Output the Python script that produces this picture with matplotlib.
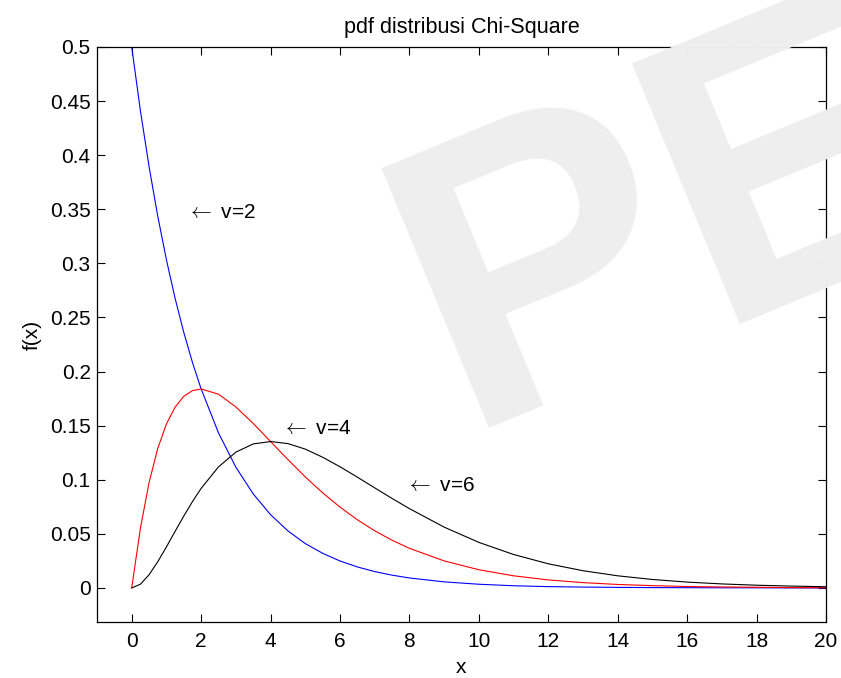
import matplotlib.pyplot as plt

plt.rcParams['font.family'] = ['Liberation Sans', 'DejaVu Sans']
plt.rcParams['mathtext.fontset'] = 'cm'

# x grid and the three chi-square pdf curves (v = 2, 4, 6)
x = [0, 0.25, 0.5, 0.75, 1, 1.25, 1.5, 1.75, 2, 2.5, 3, 3.5, 4, 4.5, 5, 5.5,
     6, 6.5, 7, 7.5, 8, 9, 10, 11, 12, 13, 14, 15, 16, 17, 18, 19, 20]

f_v2 = [0.5, 0.4412, 0.3894, 0.3436, 0.3033, 0.2676, 0.2362, 0.2084, 0.1839,
        0.1433, 0.1116, 0.0869, 0.0677, 0.0527, 0.0410, 0.0320, 0.0249, 0.0194,
        0.0151, 0.0118, 0.0092, 0.0056, 0.0034, 0.0020, 0.0012, 0.0008, 0.0005,
        0.0003, 0.0002, 0.0001, 0.0001, 0.0, 0.0]

f_v4 = [0.0, 0.0551, 0.0974, 0.1289, 0.1516, 0.1671, 0.1771, 0.1824, 0.1839,
        0.1791, 0.1673, 0.1520, 0.1353, 0.1186, 0.1026, 0.0879, 0.0747, 0.0630,
        0.0528, 0.0441, 0.0366, 0.0250, 0.0168, 0.0112, 0.0074, 0.0049, 0.0032,
        0.0021, 0.0013, 0.0009, 0.0006, 0.0003, 0.0002]

f_v6 = [0.0, 0.0034, 0.0122, 0.0242, 0.0379, 0.0523, 0.0664, 0.0798, 0.0920,
        0.1119, 0.1255, 0.1331, 0.1353, 0.1334, 0.1283, 0.1208, 0.1120, 0.1024,
        0.0925, 0.0827, 0.0733, 0.0562, 0.0421, 0.0309, 0.0223, 0.0159, 0.0112,
        0.0078, 0.0054, 0.0037, 0.0025, 0.0017, 0.0011]

labels = ['v=2', 'v=4', 'v=6']
label_x = [1.6, 4.33, 7.9]
label_y = [0.347, 0.147, 0.095]

x_ticks = list(range(0, 21, 2))
y_ticks = [0, 0.05, 0.1, 0.15, 0.2, 0.25, 0.3, 0.35, 0.4, 0.45, 0.5]
y_tick_labels = ['0', '0.05', '0.1', '0.15', '0.2', '0.25', '0.3', '0.35',
                 '0.4', '0.45', '0.5']

fig = plt.figure(figsize=(8.41, 6.78), dpi=100)

# big grey watermark behind the axes
fig.text(462 / 841, 1 - 428 / 678, 'PE', fontsize=294, fontweight='bold',
         color='#eeeeee', rotation=22.5, rotation_mode='anchor',
         ha='left', va='baseline', zorder=0)

ax = fig.add_axes([97 / 841, 1 - 622 / 678, (826 - 97) / 841, (622 - 47) / 678])
ax.patch.set_alpha(0)

ax.plot(x, f_v2, color='blue', lw=0.8)
ax.plot(x, f_v4, color='red', lw=0.8)
ax.plot(x, f_v6, color='black', lw=0.8)

for lx, ly, txt in zip(label_x, label_y, labels):
    ax.text(lx, ly, r'$\leftarrow$ ' + txt, fontsize=15, ha='left', va='center')

ax.set_xlim(-1, 20)
ax.set_ylim(-0.0315, 0.5)
ax.set_xticks(x_ticks)
ax.set_yticks(y_ticks)
ax.set_yticklabels(y_tick_labels)
ax.tick_params(direction='in', length=6, width=0.8, top=True, right=True,
               labelsize=15)
ax.tick_params(axis='x', pad=7)
ax.tick_params(axis='y', pad=4.5)
for s in ax.spines.values():
    s.set_linewidth(0.9)

ax.set_title('pdf distribusi Chi-Square', fontsize=15.5, pad=10)
ax.set_xlabel('x', fontsize=15, labelpad=5)
ax.set_ylabel('f(x)', fontsize=15, labelpad=6)

fig.savefig('out.png', dpi=100)
